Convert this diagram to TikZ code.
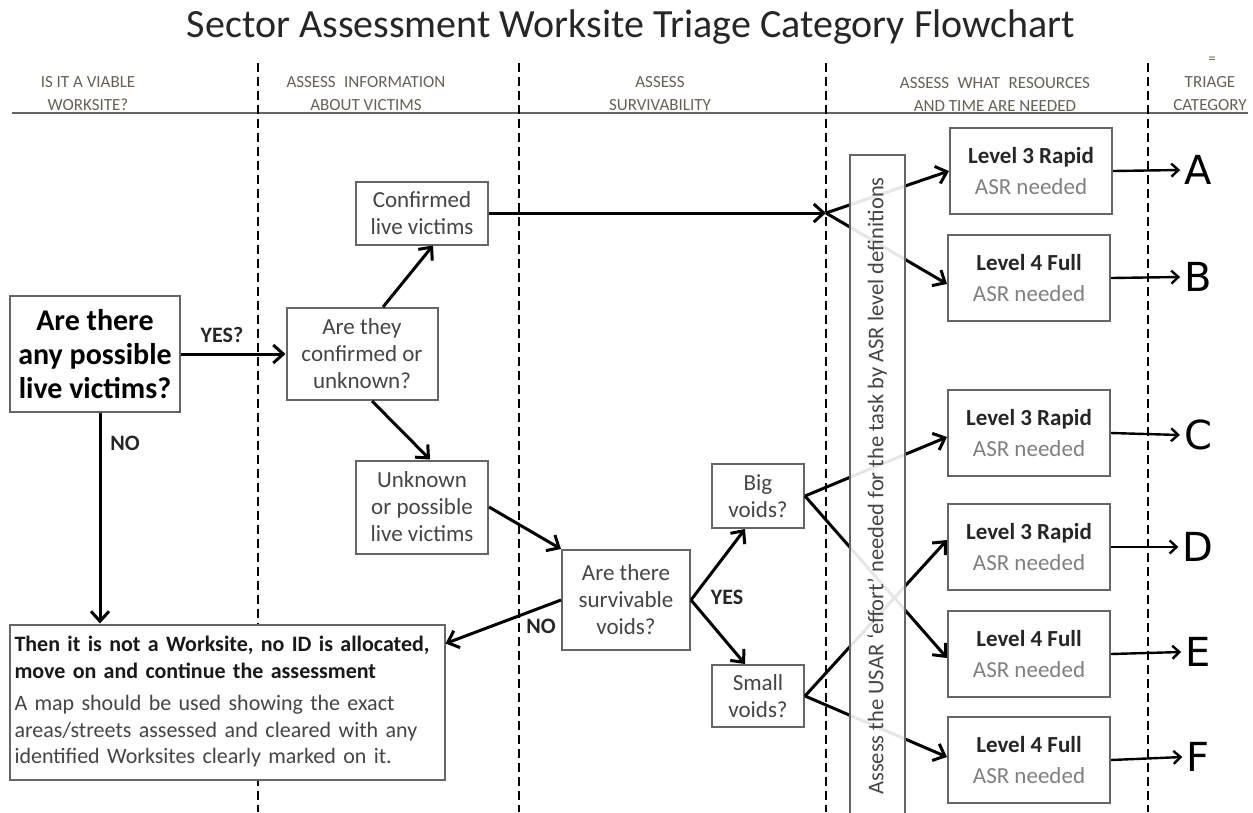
\documentclass[tikz,border=0pt]{standalone}
\usepackage{fontspec}
\setmainfont{Carlito}
\newfontfamily\letterfont{DejaVu Sans}
\usetikzlibrary{arrows.meta}

\definecolor{inkgray}{rgb}{0.27,0.27,0.27}
\definecolor{headgray}{rgb}{0.40,0.38,0.32}
\definecolor{framegray}{rgb}{0.40,0.40,0.40}

\newcommand{\asrlevel}[1]{{\bfseries\color{black!85}#1}\\{\color{black!50}ASR needed}}

\tikzset{
  box/.style={draw=framegray, line width=2pt, fill=white, align=center, text=inkgray,
    font=\fontsize{23}{27}\selectfont},
  levelbox/.style={box, minimum width=162pt, minimum height=86pt, font=\fontsize{23}{31}\selectfont},
  flow/.style={draw, line width=3pt, -{Straight Barb[length=10pt,width=18pt]}},
  pick/.style={draw, line width=2.4pt, -{Straight Barb[length=7pt,width=13pt]}},
  tag/.style={font=\bfseries\fontsize{22}{24}\selectfont, text=black!85},
  divider/.style={line width=2.6pt, dash pattern=on 9pt off 5pt},
  header/.style={align=center, text=headgray, font=\fontsize{17}{23}\selectfont},
  triage/.style={font=\letterfont\fontsize{40}{40}\selectfont, inner sep=4pt},
}

\begin{document}
\begin{tikzpicture}[x=1pt,y=-1pt]
\useasboundingbox (0,0) rectangle (1253,812);

% title and column headers
\node[text=black!85, font=\fontsize{40}{40}\selectfont] (title) at (631,27) {Sector Assessment Worksite Triage Category Flowchart};
\node[header] (h1) at (88,94) {IS IT A VIABLE\\WORKSITE?};
\node[header] (h2) at (366,94) {ASSESS\enspace INFORMATION\\ABOUT VICTIMS};
\node[header] (h3) at (660,94) {ASSESS\\SURVIVABILITY};
\node[header] (h4) at (995,94) {ASSESS\enspace WHAT\enspace RESOURCES\\AND TIME ARE NEEDED};
\node[header] (h5) at (1210,94) {TRIAGE\\CATEGORY};
\node[header, font=\fontsize{15}{15}\selectfont] (eq) at (1212,60) {=};
\draw[framegray, line width=2pt] (12,113) -- (1248,113);
\foreach \x in {258,519,826,1148}
  \draw[divider] (\x,63) -- (\x,812);

% questions
\node[box, text=black, font=\bfseries\fontsize{30}{34}\selectfont,
  minimum width=170pt, minimum height=116pt] (live) at (95,354) {Are there\\any possible\\live victims?};
\node[box, minimum width=151pt, minimum height=92pt] (ask) at (362,354) {Are they\\confirmed or\\unknown?};
\node[box, minimum width=132pt, minimum height=63pt] (conf) at (422,213) {Confirmed\\live victims};
\node[box, minimum width=132pt, minimum height=93pt] (unk) at (422,507) {Unknown\\or possible\\live victims};
\node[box, minimum width=128pt, minimum height=100pt] (surv) at (626,600) {Are there\\survivable\\voids?};
\node[box, minimum width=92pt, minimum height=64pt] (big) at (758,496) {Big\\voids?};
\node[box, minimum width=92pt, minimum height=62pt] (small) at (758,696) {Small\\voids?};
\node[box, align=left, text width=425pt, minimum height=155pt, inner sep=5pt,
  font=\fontsize{22}{26.5}\selectfont] (note) at (227,702)
  {{\bfseries\color{black!90}Then it is not a Worksite, no ID is allocated,\\move on and continue the assessment}\\[6pt]
   A map should be used showing the exact\\areas/streets assessed and cleared with any\\identified Worksites clearly marked on it.};

% ASR levels
\node[levelbox] (lvA) at (1031,171) {\asrlevel{Level 3 Rapid}};
\node[levelbox] (lvB) at (1029,278) {\asrlevel{Level 4 Full}};
\node[levelbox] (lvC) at (1029,433) {\asrlevel{Level 3 Rapid}};
\node[levelbox] (lvD) at (1029,547) {\asrlevel{Level 3 Rapid}};
\node[levelbox] (lvE) at (1029,654) {\asrlevel{Level 4 Full}};
\node[levelbox] (lvF) at (1029,760) {\asrlevel{Level 4 Full}};

% triage categories
\node[triage] (tA) at (1198,170) {A};
\node[triage] (tB) at (1198,277) {B};
\node[triage] (tC) at (1198,435) {C};
\node[triage] (tD) at (1198,547) {D};
\node[triage] (tE) at (1198,652) {E};
\node[triage] (tF) at (1198,757) {F};

\coordinate (junc) at (826,213);

% connectors
\draw[flow] (live) -- (ask);
\draw[flow] ([xshift=5pt]live.south) -- ([xshift=5pt]live.south |- note.north);
\draw[flow] ([xshift=21pt]ask.north) -- ([xshift=11pt]conf.south);
\draw[flow] ([xshift=10pt]ask.south) -- ([xshift=8pt]unk.north);
\draw[flow] (conf) -- (junc);
\draw[flow] (junc) -- (lvA.west);
\draw[flow] (junc) -- ([yshift=-6pt]lvB.west);
\draw[flow] (unk.east) -- (surv.north west);
\draw[flow] (surv.east) -- ([xshift=-13pt]big.south);
\draw[flow] (surv.east) -- ([xshift=-13pt]small.north);
\draw[flow] (surv.west) -- ([yshift=-20pt]note.north east);
\draw[flow] (big.east) -- ([yshift=-4pt]lvC.west);
\draw[flow] (big.east) -- ([yshift=-4pt]lvE.west);
\draw[flow] (small.east) -- ([yshift=7pt]lvD.west);
\draw[flow] (small.east) -- ([yshift=3pt]lvF.west);
\foreach \k in {A,B,C,D,E,F}
  \draw[pick] (lv\k.east) -- (t\k.west);

% effort bar over the connectors
\node[draw=framegray, line width=2pt, fill=white, fill opacity=0.9, text opacity=1,
  rotate=90, minimum width=662pt, minimum height=55pt, text=inkgray,
  font=\fontsize{22.5}{23}\selectfont] (bar) at (877,486)
  {Assess the USAR ‘effort’ needed for the task by ASR level definitions};

% answers
\node[tag] (yesq) at (222,335) {YES?};
\node[tag] (no1) at (125,443) {NO};
\node[tag] (no2) at (541,626) {NO};
\node[tag] (yes) at (727,597) {YES};
\end{tikzpicture}
\end{document}
